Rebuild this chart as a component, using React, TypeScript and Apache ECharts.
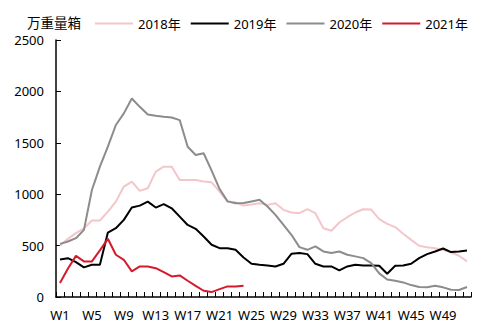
import React, { useEffect, useRef } from "react";
import * as echarts from "echarts";

const weeks: string[] = Array.from({ length: 52 }, (_, i) => "W" + (i + 1));

const s2018: number[] = [
  498, 566, 621, 669, 744, 744, 831, 928, 1074, 1123, 1032, 1058, 1220, 1268, 1268, 1139,
  1139, 1139, 1123, 1116, 1025, 928, 921, 889, 900, 912, 896, 912, 848, 822, 815, 854,
  815, 669, 644, 725, 776, 822, 854, 850, 757, 712, 680, 615, 556, 498, 485, 475,
  459, 433, 401, 346,
];
const s2019: number[] = [
  365, 378, 339, 288, 313, 313, 627, 669, 750, 870, 889, 928, 870, 903, 863, 782,
  701, 663, 589, 508, 475, 475, 459, 385, 323, 313, 307, 297, 323, 420, 427, 417,
  323, 297, 297, 259, 297, 313, 307, 307, 304, 226, 304, 307, 323, 378, 417, 443,
  472, 437, 443, 453,
];
const s2020: number[] = [
  517, 540, 572, 653, 1041, 1268, 1462, 1673, 1786, 1931, 1850, 1776, 1763, 1753, 1746, 1721,
  1462, 1381, 1398, 1230, 1050, 930, 912, 915, 930, 945, 880, 799, 702, 605, 485, 459,
  492, 443, 427, 443, 411, 395, 378, 330, 230, 170, 158, 142, 116, 97, 94, 110,
  94, 71, 68, 97,
];
const s2021: number[] = [
  136, 278, 400, 346, 346, 453, 566, 411, 362, 249, 297, 297, 280, 242, 200, 210,
  158, 109, 61, 48, 77, 103, 103, 109,
];

const seriesNames = ["2018年", "2019年", "2020年", "2021年"];
const colors = ["#F3C6CA", "#000000", "#8C8C8C", "#D41A2B"];

const FONT = "'Noto Sans', 'Noto Sans CJK SC', sans-serif";

export default function App() {
  const ref = useRef<HTMLDivElement>(null);
  useEffect(() => {
    if (!ref.current) return;
    const chart = echarts.init(ref.current, null, { renderer: "svg" });
    const data = [s2018, s2019, s2020, s2021];
    chart.setOption({
      animation: false,
      color: colors,
      textStyle: { fontFamily: FONT },
      title: {
        text: "万重量箱",
        left: 22,
        top: 11,
        textStyle: { fontSize: 13.5, fontWeight: "normal", color: "#000", fontFamily: FONT },
      },
      legend: {
        top: 12,
        left: 90,
        itemWidth: 38,
        itemHeight: 2,
        itemGap: 10,
        icon: "rect",
        textStyle: { fontSize: 13, color: "#000", fontFamily: FONT },
        data: seriesNames,
      },
      grid: { left: 56, right: 21, top: 40, bottom: 33 },
      xAxis: {
        type: "category",
        data: weeks,
        boundaryGap: true,
        axisLine: { lineStyle: { color: "#000", width: 1.5 } },
        axisTick: { show: true, inside: true, length: 5, interval: 0, lineStyle: { color: "#000" } },
        axisLabel: { interval: 3, color: "#000", fontSize: 13, margin: 11, fontFamily: FONT },
      },
      yAxis: {
        type: "value",
        min: 0,
        max: 2500,
        interval: 500,
        splitLine: { show: false },
        axisLine: { show: true, lineStyle: { color: "#000", width: 1.5 } },
        axisTick: { show: true, inside: true, length: 5, lineStyle: { color: "#000" } },
        axisLabel: {
          color: "#000",
          fontSize: 13,
          margin: 12,
          fontFamily: FONT,
          formatter: (v: number) => String(v),
        },
      },
      series: data.map((d, i) => ({
        name: seriesNames[i],
        type: "line",
        data: d,
        symbol: "none",
        lineStyle: { width: 2, color: colors[i] },
        itemStyle: { color: colors[i] },
        z: i === 0 ? 1 : i + 2,
      })),
    });
    return () => chart.dispose();
  }, []);
  return <div ref={ref} style={{ width: 492, height: 330, margin: -8 }} />;
}
